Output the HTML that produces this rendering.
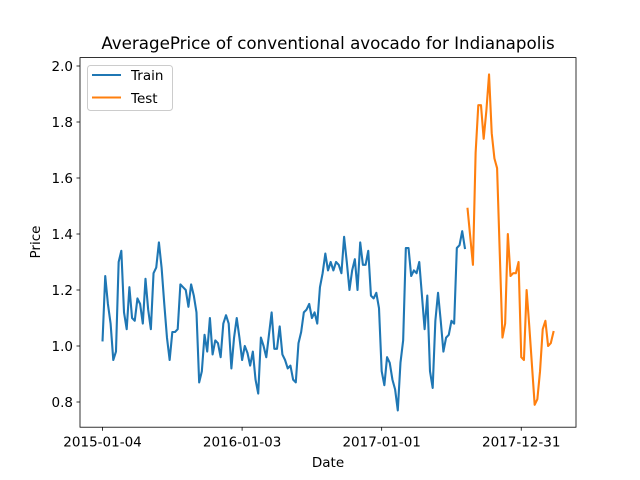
<!DOCTYPE html>
<html><head><meta charset="utf-8"><style>
body{margin:0;background:#fff}
svg{display:block;font-family:"DejaVu Sans","Liberation Sans",sans-serif}
</style></head><body>
<svg id="chart" width="640" height="480" viewBox="0 0 640 480">
<rect width="640" height="480" fill="#fff"/>
<text x="328" y="49" font-size="16.7" text-anchor="middle" fill="#000">AveragePrice of conventional avocado for Indianapolis</text>
<g id="plot"></g>
<text x="328" y="467" font-size="13.5" text-anchor="middle">Date</text>
<text transform="translate(40,242) rotate(-90)" font-size="13.5" text-anchor="middle">Price</text>
<g>
<rect x="87.5" y="65.5" width="85" height="45" rx="3" fill="#fff" fill-opacity="0.8" stroke="#ccc"/>
<line x1="92" y1="75" x2="121" y2="75" stroke="#1f77b4" stroke-width="2.1"/>
<text x="131" y="80" font-size="13.5">Train</text>
<line x1="92" y1="97.5" x2="121" y2="97.5" stroke="#ff7f0e" stroke-width="2.1"/>
<text x="131" y="103" font-size="13.5">Test</text>
</g>
</svg>
<script>
const trainValues=[1.02,1.25,1.15,1.08,0.95,0.98,1.30,1.34,1.12,1.06,1.21,1.10,1.09,1.17,1.15,1.08,1.24,1.13,1.06,1.26,1.28,1.37,1.28,1.15,1.03,0.95,1.05,1.05,1.06,1.22,1.21,1.20,1.14,1.22,1.18,1.12,0.87,0.91,1.04,0.98,1.10,0.97,1.02,1.01,0.96,1.08,1.11,1.08,0.92,1.03,1.10,1.03,0.95,1.00,0.975,0.93,0.98,0.88,0.83,1.03,1.00,0.96,1.04,1.12,0.99,0.99,1.07,0.97,0.95,0.92,0.93,0.88,0.87,1.01,1.05,1.12,1.13,1.15,1.10,1.12,1.08,1.21,1.26,1.33,1.27,1.30,1.27,1.30,1.29,1.26,1.39,1.30,1.20,1.27,1.31,1.20,1.37,1.29,1.29,1.34,1.18,1.17,1.19,1.135,0.91,0.86,0.96,0.94,0.88,0.845,0.77,0.94,1.02,1.35,1.35,1.25,1.27,1.26,1.30,1.18,1.06,1.18,0.91,0.85,1.09,1.19,1.09,0.98,1.03,1.04,1.09,1.08,1.35,1.36,1.41,1.35];
const testValues=[1.49,1.39,1.29,1.69,1.86,1.86,1.74,1.84,1.97,1.76,1.67,1.635,1.33,1.03,1.08,1.40,1.25,1.26,1.26,1.30,0.96,0.95,1.20,1.07,0.93,0.79,0.81,0.91,1.06,1.09,1.00,1.01,1.05];
const startDate="2015-01-04";
const xTickLabels=["2015-01-04","2016-01-03","2017-01-01","2017-12-31"];
const yTickLabels=["0.8","1.0","1.2","1.4","1.6","1.8","2.0"];

const NS="http://www.w3.org/2000/svg";
const L=80,R=576,T=57.6,B=427.2;
const n=trainValues.length+testValues.length;
const DAY=86400000, t0=Date.parse(startDate);
const weekOf=d=>(Date.parse(d)-t0)/(7*DAY);
const all=trainValues.concat(testValues);
const ymin=Math.min(...all),ymax=Math.max(...all),yr=ymax-ymin;
const y0=ymin-0.05*yr,y1=ymax+0.05*yr;
const xr=n-1,x0=-0.05*xr,x1=xr*1.05;
const sx=i=>L+(i-x0)/(x1-x0)*(R-L);
const sy=v=>B-(v-y0)/(y1-y0)*(B-T);
const plot=document.getElementById('plot');
function mk(tag,attrs){const e=document.createElementNS(NS,tag);for(const k in attrs)e.setAttribute(k,attrs[k]);plot.appendChild(e);return e;}

yTickLabels.forEach(lab=>{
  const y=sy(parseFloat(lab));
  const tk=mk('line',{x1:L-3.5,x2:L,y1:y,y2:y,stroke:'#000','stroke-width':0.8});
  
  
  const t=mk('text',{x:L-7,y:y+5,'font-size':13.5,'text-anchor':'end'});
  t.textContent=lab;
  
  
});
xTickLabels.forEach(lab=>{
  const x=sx(weekOf(lab));
  const tk=mk('line',{x1:x,x2:x,y1:B,y2:B+3.5,stroke:'#000','stroke-width':0.8});
  
  
  const t=mk('text',{x:x,y:B+19.5,'font-size':13.5,'text-anchor':'middle'});
  t.textContent=lab;
  
  
});
function line(vals,off,color,name){
  const pts=vals.map((v,i)=>sx(i+off).toFixed(2)+','+sy(v).toFixed(2)).join(' ');
  const p=mk('polyline',{points:pts,fill:'none',stroke:color,'stroke-width':2.1,'stroke-linejoin':'round','stroke-linecap':'square'});
  
  
}
line(trainValues,0,'#1f77b4','train-line');
line(testValues,trainValues.length,'#ff7f0e','test-line');
const fr=mk('rect',{x:L,y:T,width:R-L,height:B-T,fill:'none',stroke:'#000','stroke-width':0.8});


</script>
</body></html>
